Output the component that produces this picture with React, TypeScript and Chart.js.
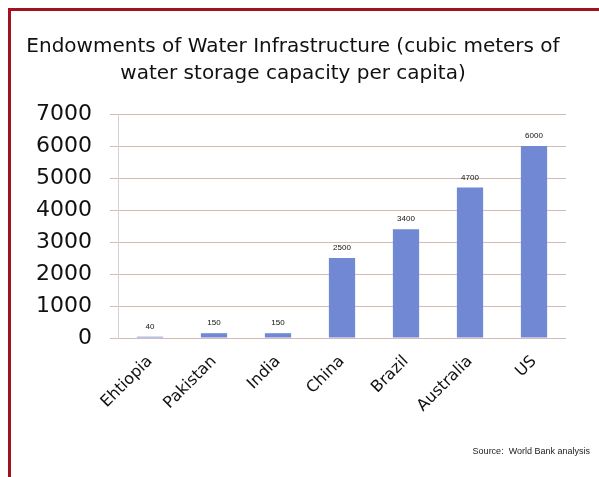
import React, { useEffect, useRef } from "react";
import { Chart, registerables } from "chart.js";

Chart.register(...registerables);

const categories = ["Ehtiopia", "Pakistan", "India", "China", "Brazil", "Australia", "US"];
const storagePerCapita = [40, 150, 150, 2500, 3400, 4700, 6000];
const titleLines = [
  "Endowments of Water Infrastructure (cubic meters of",
  "water storage capacity per capita)",
];
const sourceNote = "Source:  World Bank analysis";

const framePlugin = {
  id: "frame",
  beforeDraw(chart: any) {
    const { ctx, width, height } = chart;
    ctx.save();
    ctx.fillStyle = "#ffffff";
    ctx.fillRect(0, 0, width, height);
    ctx.strokeStyle = "#a3121b";
    ctx.lineWidth = 3;
    ctx.beginPath();
    ctx.moveTo(9.5, height + 5);
    ctx.lineTo(9.5, 9.5);
    ctx.lineTo(width + 5, 9.5);
    ctx.stroke();
    ctx.restore();
  },
  afterDraw(chart: any) {
    const { ctx } = chart;
    ctx.save();
    ctx.font = "9px 'Liberation Sans', Arial, sans-serif";
    ctx.fillStyle = "#222";
    ctx.textAlign = "right";
    ctx.textBaseline = "middle";
    ctx.fillText(sourceNote, 590, 452);
    ctx.restore();
  },
};

const valueLabelPlugin = {
  id: "valueLabels",
  afterDatasetsDraw(chart: any) {
    const { ctx } = chart;
    const meta = chart.getDatasetMeta(0);
    ctx.save();
    ctx.font = "8px 'Liberation Sans', Arial, sans-serif";
    ctx.fillStyle = "#111";
    ctx.textAlign = "center";
    ctx.textBaseline = "bottom";
    meta.data.forEach((bar: any, i: number) => {
      ctx.fillText(String(chart.data.datasets[0].data[i]), bar.x, bar.y - 6);
    });
    ctx.restore();
  },
};

export default function App() {
  const ref = useRef<HTMLCanvasElement | null>(null);
  useEffect(() => {
    if (!ref.current) return;
    const chart = new Chart(ref.current, {
      type: "bar",
      data: {
        labels: categories,
        datasets: [
          {
            data: storagePerCapita,
            backgroundColor: "#7189d5",
            borderWidth: 0,
            barPercentage: 0.41,
            categoryPercentage: 1,
          },
        ],
      },
      options: {
        responsive: false,
        animation: false,
        devicePixelRatio: 1,
        layout: { padding: { left: 0, right: 13, top: 0, bottom: 0 } },
        plugins: {
          legend: { display: false },
          tooltip: { enabled: false },
          title: {
            display: true,
            text: titleLines,
            color: "#111",
            font: { family: "'DejaVu Sans', sans-serif", size: 20, weight: "normal", lineHeight: 1.35 },
            padding: { top: 33, bottom: 27 },
          },
        },
        scales: {
          x: {
            grid: { display: false },
            border: { display: false },
            ticks: {
              color: "#111",
              font: { family: "'DejaVu Sans', sans-serif", size: 16 },
              maxRotation: 45,
              minRotation: 45,
              padding: 6,
            },
            afterFit(scale: any) {
              scale.height = 139;
            },
          },
          y: {
            min: 0,
            max: 7000,
            ticks: {
              stepSize: 1000,
              color: "#111",
              font: { family: "'DejaVu Sans', sans-serif", size: 22 },
              padding: 18,
              callback: (v: any) => String(v),
            },
            grid: {
              color: "rgba(170,120,110,0.5)",
              lineWidth: 1,
              drawTicks: true,
              tickLength: 8,
            },
            border: { display: true, color: "rgba(180,180,180,0.6)" },
            afterFit(scale: any) {
              scale.width = 118;
            },
          },
          spacer: {
            type: "linear",
            position: "right",
            display: true,
            grid: { display: false, drawTicks: false },
            border: { display: false },
            ticks: { display: false },
            afterFit(scale: any) {
              scale.width = 20;
            },
          },
        },
      },
      plugins: [framePlugin, valueLabelPlugin],
    });
    return () => chart.destroy();
  }, []);
  return (
    <div style={{ position: "absolute", left: 0, top: 0, width: 599, height: 477, overflow: "hidden" }}>
      <canvas ref={ref} width={599} height={477} style={{ display: "block", width: 599, height: 477 }} />
    </div>
  );
}
